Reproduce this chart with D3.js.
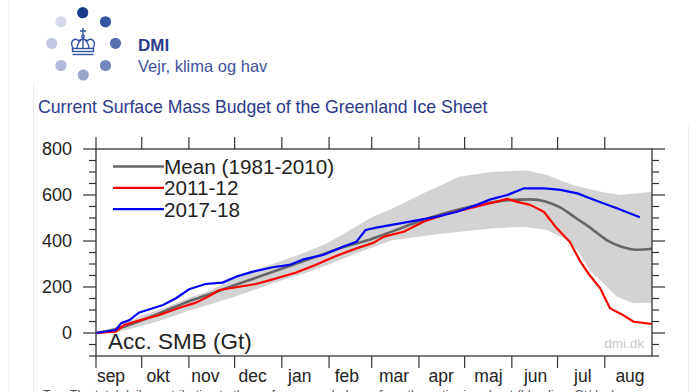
<!DOCTYPE html>
<html>
<head>
<meta charset="utf-8">
<script src="https://cdn.jsdelivr.net/npm/d3@7"></script>
<style>
  body { margin: 0; background: #fff; }
  text { font-family: "Liberation Sans", Arial, Helvetica, sans-serif; }
</style>
</head>
<body>
<script>
// ---- data (day 0 = 1 sep, acc. SMB in Gt) ----
const months = ['sep','okt','nov','dec','jan','feb','mar','apr','maj','jun','jul','aug'];
const monthStart = [0, 30, 61, 91, 122, 153, 181, 212, 242, 273, 303, 334];

const meanDay = [0, 15, 30, 45, 60, 75, 90, 105, 120, 135, 150, 165, 180, 195, 210, 225, 240, 255, 270, 285, 295, 305, 315, 325, 335, 345, 355, 365];
const meanVal = [0, 20, 55, 95, 135, 170, 205, 240, 275, 310, 345, 378, 407, 443, 480, 513, 540, 562, 577, 581, 572, 545, 500, 455, 405, 375, 362, 366];

const bandDay   = [0, 15, 30, 45, 60, 75, 90, 105, 120, 135, 150, 165, 180, 195, 217, 239, 261, 283, 296, 313, 331, 344, 365];
const bandUpper = [0, 30, 75, 110, 150, 185, 235, 275, 310, 345, 385, 440, 500, 542, 614, 680, 701, 706, 687, 643, 614, 600, 614];
const bandLowDay = [0, 15, 30, 45, 60, 75, 90, 105, 120, 135, 150, 165, 180, 195, 228, 261, 281, 296, 303, 309, 316, 324, 333, 342, 353, 365];
const bandLower  = [0, 5, 30, 60, 95, 125, 155, 190, 225, 255, 290, 330, 370, 404, 433, 455, 462, 448, 426, 404, 361, 274, 216, 158, 129, 132];

const redDay = [0, 13, 18.6, 28, 41.6, 54.7, 65.7, 74.4, 81, 92, 105, 116, 131, 144, 157.6, 171, 182, 189, 202, 215, 228, 241, 254, 263, 270, 276, 285, 294, 302.5, 311, 318, 324, 331, 337.5, 346, 353, 365];
const redVal = [0, 6, 35, 54, 78, 110, 132, 161, 187, 199, 213, 233, 262, 296, 335, 368, 392, 419, 440, 484, 513, 535, 557, 571, 583, 571, 557, 527, 455, 397, 310, 252, 194, 107, 78, 49, 39];

const blueDay = [0, 13, 16.4, 22, 28, 44, 52.5, 61, 72, 83, 92, 103, 116, 127, 136, 149, 162, 171, 177, 184, 206, 224, 237, 250, 259, 270, 281, 294, 305, 316, 329, 342, 357];
const blueVal = [0, 13, 42, 56, 88, 122, 151, 190, 213, 219, 245, 267, 286, 296, 320, 339, 375, 397, 448, 458, 484, 506, 527, 557, 581, 600, 629, 629, 622, 607, 574, 542, 503];

const legendNames = ['Mean (1981-2010)', '2011-12', '2017-18'];
const legendColors = ['#666666', '#ff0000', '#0000ff'];

// ---- canvas ----
const svg = d3.select('body').append('svg')
  .attr('width', 700)
  .attr('height', 392);

svg.append('rect').attr('width', 700).attr('height', 392).attr('fill', '#fff');

// faint page borders
svg.append('line').attr('x1', 8.5).attr('x2', 8.5).attr('y1', 0).attr('y2', 392).attr('stroke', '#f2f2f2');
svg.append('line').attr('x1', 33.5).attr('x2', 33.5).attr('y1', 82).attr('y2', 392).attr('stroke', '#ececec');
svg.append('line').attr('x1', 688.5).attr('x2', 688.5).attr('y1', 126).attr('y2', 392).attr('stroke', '#ececec');

// ---- logo ----
const dots = [
  [82.7, 12.7, '#163c8c'], [105.5, 21.8, '#3553a3'], [115.5, 43.3, '#5a6fb0'], [105.5, 65.5, '#7686bf'],
  [83.3, 75, '#9aa5cf'], [61, 65.5, '#b1badb'], [51.7, 43.3, '#c2c9e2'], [61, 21.8, '#d3d8ea']
];
svg.selectAll('circle.dot').data(dots).enter().append('circle')
  .attr('class', 'dot')
  .attr('cx', d => d[0]).attr('cy', d => d[1]).attr('r', 5.6)
  .attr('fill', d => d[2]);

const crown = svg.append('g').attr('fill', 'none').attr('stroke', '#3553a3').attr('stroke-width', 1.4);
crown.append('path').attr('d', 'M83,28 V35 M80,31 H86');
crown.append('circle').attr('cx', 83).attr('cy', 36.5).attr('r', 1.3);
crown.append('path').attr('d', 'M73,48 C69,41 75,37 79,41 C80,38.5 86,38.5 87,41 C91,37 97,41 93,48');
crown.append('path').attr('d', 'M77,48 Q77.5,42 83,38.5 Q88.5,42 89,48 M83,39 V48');
crown.append('rect').attr('x', 72.5).attr('y', 48.5).attr('width', 21).attr('height', 3);
crown.append('path').attr('d', 'M72.5,54.5 H93.5');

svg.append('text').attr('x', 138).attr('y', 51).attr('font-size', 17).attr('font-weight', 'bold')
  .attr('fill', '#2b3a8c').text('DMI');
svg.append('text').attr('x', 138).attr('y', 72).attr('font-size', 16.5)
  .attr('fill', '#3f52a0').text('Vejr, klima og hav');

// ---- title ----
svg.append('text').attr('x', 38).attr('y', 113).attr('font-size', 17.7)
  .attr('fill', '#2b3a8c').text('Current Surface Mass Budget of the Greenland Ice Sheet');

// ---- plot ----
const pL = 96, pR = 652, pT = 149, pB = 356;
const x = d3.scaleLinear().domain([0, 365]).range([pL, pR]);
const y = d3.scaleLinear().domain([-100, 800]).range([pB, pT]);
const xLab = d3.scalePoint().domain(months).range([pL + 15, pR - 22]);

// band
const bandPts = bandDay.map((d, i) => [x(d), y(bandUpper[i])])
  .concat(bandLowDay.map((d, i) => [x(d), y(bandLower[i])]).reverse());
svg.append('path')
  .attr('d', d3.line()(bandPts) + 'Z')
  .attr('fill', '#d3d3d3');

const line = d3.line().x(d => x(d[0])).y(d => y(d[1]));
svg.append('path').datum(meanDay.map((d, i) => [d, meanVal[i]]))
  .attr('d', line.curve(d3.curveMonotoneX))
  .attr('fill', 'none').attr('stroke', '#666').attr('stroke-width', 2.6);
line.curve(d3.curveLinear);
svg.append('path').datum(redDay.map((d, i) => [d, redVal[i]]))
  .attr('d', line)
  .attr('fill', 'none').attr('stroke', '#ff0000').attr('stroke-width', 2.2).attr('stroke-linejoin', 'round');
svg.append('path').datum(blueDay.map((d, i) => [d, blueVal[i]]))
  .attr('d', line)
  .attr('fill', 'none').attr('stroke', '#0000ff').attr('stroke-width', 2.2).attr('stroke-linejoin', 'round');

// frame + ticks
const axCol = '#333';
svg.append('rect').attr('x', pL).attr('y', pT).attr('width', pR - pL).attr('height', pB - pT)
  .attr('fill', 'none').attr('stroke', axCol).attr('stroke-width', 1.3);

const yTicks = d3.range(-100, 801, 50);
svg.selectAll('line.yl').data(yTicks).enter().append('line')
  .attr('x1', pL).attr('x2', d => pL - (d % 200 === 0 ? 13 : 7))
  .attr('y1', d => y(d)).attr('y2', d => y(d))
  .attr('stroke', axCol).attr('stroke-width', 1.2);
svg.selectAll('line.yr').data(yTicks).enter().append('line')
  .attr('x1', pR).attr('x2', d => pR + (d % 200 === 0 ? 13 : 7))
  .attr('y1', d => y(d)).attr('y2', d => y(d))
  .attr('stroke', axCol).attr('stroke-width', 1.2);
svg.selectAll('text.yt').data(yTicks.filter(d => d >= 0 && d % 200 === 0)).enter().append('text')
  .attr('x', pL - 24).attr('y', d => y(d) + 6.3)
  .attr('text-anchor', 'end').attr('font-size', 18).attr('fill', '#222')
  .text(d => d);

svg.selectAll('line.xt').data(monthStart).enter().append('line')
  .attr('x1', d => x(d)).attr('x2', d => x(d))
  .attr('y1', pT).attr('y2', pT - 12)
  .attr('stroke', axCol).attr('stroke-width', 1.2);
svg.selectAll('line.xb').data(monthStart).enter().append('line')
  .attr('x1', d => x(d)).attr('x2', d => x(d))
  .attr('y1', pB).attr('y2', pB + 12)
  .attr('stroke', axCol).attr('stroke-width', 1.2);
svg.selectAll('text.xl').data(months).enter().append('text')
  .attr('x', d => xLab(d)).attr('y', 382)
  .attr('text-anchor', 'middle').attr('font-size', 17.5).attr('fill', '#222')
  .text(d => d);

// legend
const lg = svg.selectAll('g.lg').data(legendNames).enter().append('g')
  .attr('transform', (d, i) => `translate(113,${166.5 + i * 21.3})`);
lg.append('line').attr('x1', 0).attr('x2', 51)
  .attr('stroke', (d, i) => legendColors[i]).attr('stroke-width', (d, i) => i === 0 ? 2.6 : 2.2);
lg.append('text').attr('x', 51).attr('y', 7.5).attr('font-size', 20.7).attr('fill', '#222')
  .text(d => d);

svg.append('text').attr('x', 108).attr('y', 348.5).attr('font-size', 22.5).attr('fill', '#222')
  .text('Acc. SMB (Gt)');
svg.append('text').attr('x', 644).attr('y', 348).attr('text-anchor', 'end')
  .attr('font-size', 13.5).attr('fill', '#c8c8c8').text('dmi.dk');

// caption, cut off at the bottom edge as in the source
svg.append('text').attr('x', 43).attr('y', 399).attr('font-size', 12.5).attr('fill', '#555')
  .text('Top: The total daily contribution to the surface mass balance from the entire ice sheet (blue line, Gt/day).');
</script>
</body>
</html>
